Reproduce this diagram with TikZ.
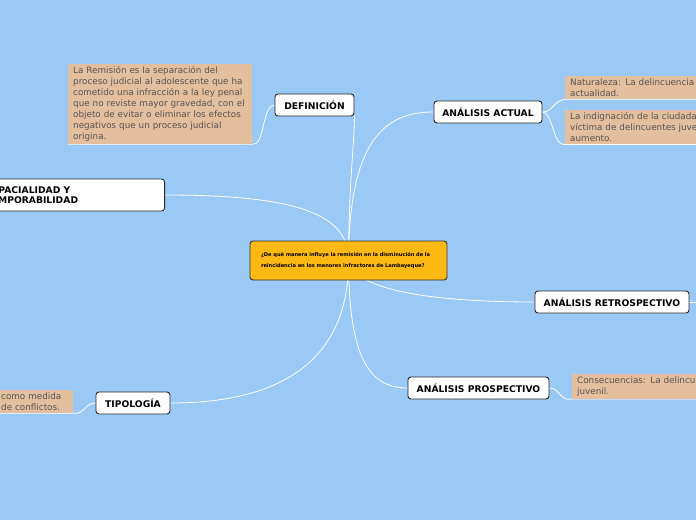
\documentclass[tikz,border=0pt]{standalone}
\usepackage{fontspec}
\setmainfont{DejaVu Sans}
\usetikzlibrary{positioning}
\definecolor{bgblue}{RGB}{155,201,246}
\definecolor{qorange}{RGB}{253,185,19}
\definecolor{notetan}{RGB}{227,191,158}
\definecolor{notetext}{RGB}{85,85,85}
\pgfdeclarelayer{bg}
\pgfdeclarelayer{links}
\pgfsetlayers{bg,links,main}

\begin{document}
\begin{tikzpicture}[x=1pt,y=-1pt,
    topic/.style={draw=black!85, line width=0.9pt, fill=white, rounded corners=3pt,
      font=\bfseries\fontsize{9.2}{10.5}\selectfont, inner sep=0pt, minimum height=22pt},
    central/.style={draw=black!80, line width=0.9pt, fill=qorange, rounded corners=3pt,
      font=\bfseries\fontsize{5.1}{11}\selectfont, align=left, text width=175pt,
      inner xsep=11pt, minimum width=197pt, minimum height=39pt},
    note/.style={fill=notetan, text=notetext, font=\fontsize{8.8}{11}\selectfont,
      align=left, inner xsep=5pt, inner ysep=2.5pt, anchor=north west},
    link/.style={white, line width=0.8pt}]
    \useasboundingbox (0,0) rectangle (696,520);
    \begin{pgfonlayer}{bg}
      \fill[bgblue] (0,0) rectangle (696,520);
    \end{pgfonlayer}
    \clip (0,0) rectangle (696,520);
    % Central question
    \node[central] (q) at (348.5,260.5) {¿De qué manera influye la remisión en la disminución de la\\reincidencia en los menores infractores de Lambayeque?};
    % Topics
    \node[topic, minimum width=79pt] (def) at (314.5,105) {DEFINICIÓN};
    \node[topic, minimum width=108pt] (actual) at (488,112) {ANÁLISIS ACTUAL};
    \node[topic, minimum height=32pt, text width=172pt, align=left, inner xsep=7pt, anchor=east] (esp) at (165,195) {ESPACIALIDAD Y\\TEMPORABILIDAD};
    \node[topic, minimum width=154pt] (retro) at (612,302) {ANÁLISIS RETROSPECTIVO};
    \node[topic, minimum width=141pt] (prosp) at (478.5,388) {ANÁLISIS PROSPECTIVO};
    \node[topic, minimum width=74pt] (tipo) at (133,403) {TIPOLOGÍA};
    \coordinate (retroout) at (720,302);
    % Notes
    \node[note, text width=174pt] (ndef) at (68,64) {La Remisión es la separación del\\proceso judicial al adolescente que ha\\cometido una infracción a la ley penal\\que no reviste mayor gravedad, con el\\objeto de evitar o eliminar los efectos\\negativos que un proceso judicial\\origina.};
    \node[note, text width=200pt] (nnat) at (565,76) {Naturaleza: La delincuencia\\actualidad.};
    \node[note, text width=200pt] (nind) at (565,110) {La indignación de la ciudada\\víctima de delincuentes juve\\aumento.};
    \node[note, text width=200pt] (ncons) at (572,374) {Consecuencias: La delincu\\juvenil.};
    \node[note, text width=67pt] (ntipo) at (-4,390) {como medida\\de conflictos.};
    % Links
    \begin{pgfonlayer}{links}
      \draw[link] (q.center) .. controls (349,180) and (354,150) .. (def.south east);
      \draw[link] (q.center) .. controls (349,140) and (385,112) .. (actual.west);
      \draw[link] (q.center) .. controls (349,215) and (300,195) .. (esp.east);
      \draw[link] (q.center) .. controls (355,292) and (440,302) .. (retro.west);
      \draw[link] (retro.east) -- (retroout);
      \draw[link] (q.center) .. controls (349,350) and (365,388) .. (prosp.west);
      \draw[link] (q.center) .. controls (349,375) and (260,403) .. (tipo.east);
      \draw[link] (def.west) .. controls (262,105) and (265,146) .. (ndef.south east) -- (ndef.south west);
      \draw[link] (actual.east) .. controls (553,112) and (553,101) .. (nnat.south west) -- (nnat.south east);
      \draw[link] (actual.east) .. controls (553,112) and (553,147) .. (nind.south west) -- (nind.south east);
      \draw[link] (prosp.east) .. controls (560,388) and (560,402) .. (ncons.south west) -- (ncons.south east);
      \draw[link] (tipo.west) .. controls (85,403) and (84,415) .. (ntipo.south east) -- (ntipo.south west);
    \end{pgfonlayer}
  \end{tikzpicture}
\end{document}
